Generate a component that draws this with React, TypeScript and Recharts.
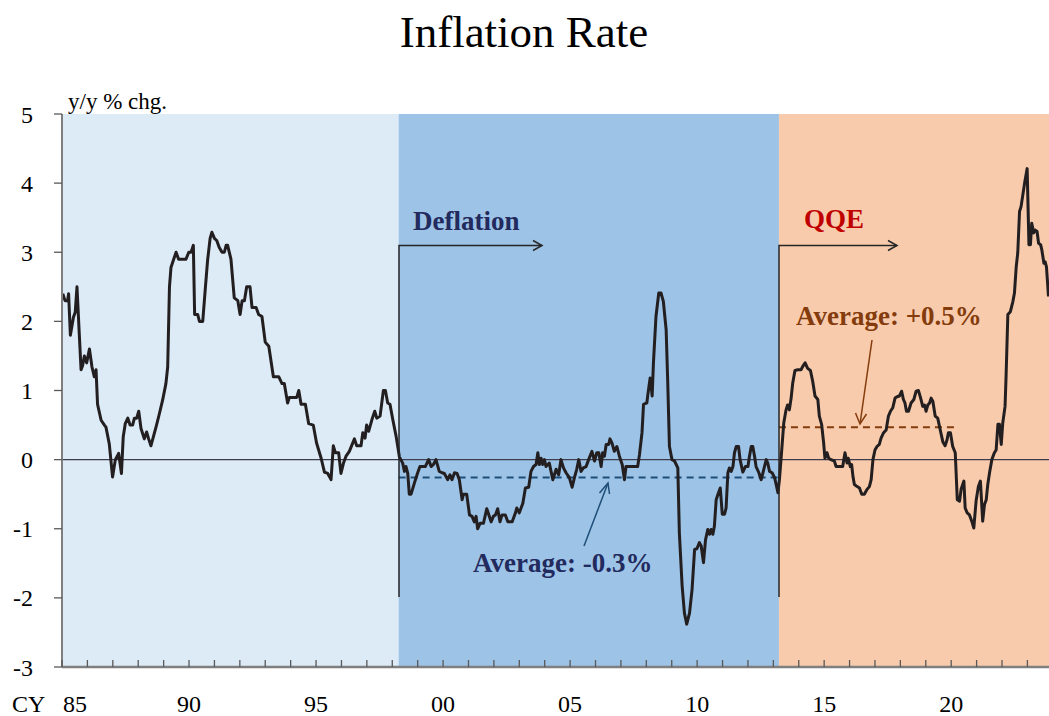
import React from "react";
import {
  LineChart,
  Line,
  XAxis,
  YAxis,
  ReferenceArea,
  ReferenceLine,
} from "recharts";

const FONT = "'Liberation Serif', 'Times New Roman', serif";

// decimal years of the traced monthly observations
const dates: number[] = [
  1985.03, 1985.12, 1985.22, 1985.26, 1985.33, 1985.45, 1985.52, 1985.59, 1985.68, 1985.75,
  1985.81, 1985.88, 1985.97, 1986.08, 1986.18, 1986.27, 1986.34, 1986.40, 1986.54, 1986.67,
  1986.73, 1986.86, 1986.99, 1987.10, 1987.23, 1987.34, 1987.41, 1987.49, 1987.59, 1987.68,
  1987.78, 1987.85, 1987.94, 1988.02, 1988.11, 1988.24, 1988.33, 1988.41, 1988.50, 1988.70,
  1988.83, 1988.96, 1989.09, 1989.16, 1989.23, 1989.29, 1989.38, 1989.49, 1989.59, 1989.72,
  1989.88, 1989.99, 1990.08, 1990.17, 1990.22, 1990.34, 1990.41, 1990.54, 1990.64, 1990.73,
  1990.83, 1990.90, 1991.00, 1991.09, 1991.19, 1991.30, 1991.39, 1991.46, 1991.52, 1991.65,
  1991.78, 1991.92, 1992.01, 1992.09, 1992.18, 1992.27, 1992.40, 1992.48, 1992.64, 1992.74,
  1992.87, 1993.00, 1993.14, 1993.32, 1993.53, 1993.66, 1993.75, 1993.88, 1993.95, 1994.24,
  1994.32, 1994.41, 1994.58, 1994.71, 1994.89, 1995.02, 1995.20, 1995.33, 1995.46, 1995.59,
  1995.68, 1995.76, 1995.89, 1995.98, 1996.08, 1996.18, 1996.31, 1996.51, 1996.60, 1996.77,
  1996.84, 1996.93, 1996.99, 1997.07, 1997.20, 1997.31, 1997.39, 1997.52, 1997.65, 1997.73,
  1997.82, 1997.91, 1998.02, 1998.15, 1998.28, 1998.41, 1998.48, 1998.54, 1998.61, 1998.67,
  1998.74, 1998.87, 1999.00, 1999.09, 1999.30, 1999.43, 1999.53, 1999.62, 1999.72, 1999.85,
  1999.96, 2000.05, 2000.18, 2000.27, 2000.35, 2000.45, 2000.55, 2000.64, 2000.75, 2000.80,
  2000.93, 2001.04, 2001.14, 2001.23, 2001.30, 2001.36, 2001.46, 2001.59, 2001.72, 2001.82,
  2001.89, 2001.98, 2002.06, 2002.15, 2002.24, 2002.32, 2002.45, 2002.55, 2002.72, 2002.85,
  2002.90, 2003.00, 2003.14, 2003.24, 2003.37, 2003.46, 2003.56, 2003.66, 2003.73, 2003.79,
  2003.86, 2003.92, 2003.99, 2004.05, 2004.18, 2004.32, 2004.45, 2004.55, 2004.64, 2004.74,
  2004.84, 2004.97, 2005.08, 2005.17, 2005.26, 2005.34, 2005.43, 2005.52, 2005.63, 2005.73,
  2005.86, 2005.96, 2006.05, 2006.13, 2006.22, 2006.28, 2006.35, 2006.42, 2006.52, 2006.57,
  2006.65, 2006.74, 2006.84, 2006.94, 2007.05, 2007.14, 2007.20, 2007.66, 2007.73, 2007.83,
  2007.89, 2008.02, 2008.06, 2008.15, 2008.19, 2008.23, 2008.28, 2008.38, 2008.49, 2008.58,
  2008.67, 2008.78, 2008.84, 2008.91, 2009.01, 2009.11, 2009.24, 2009.30, 2009.41, 2009.50,
  2009.59, 2009.70, 2009.80, 2009.90, 2009.99, 2010.09, 2010.16, 2010.25, 2010.33, 2010.42,
  2010.49, 2010.55, 2010.62, 2010.68, 2010.75, 2010.82, 2010.91, 2010.99, 2011.08, 2011.14,
  2011.21, 2011.27, 2011.34, 2011.41, 2011.47, 2011.54, 2011.63, 2011.69, 2011.80, 2011.90,
  2012.00, 2012.06, 2012.13, 2012.19, 2012.26, 2012.32, 2012.43, 2012.52, 2012.59, 2012.65,
  2012.72, 2012.78, 2012.85, 2012.95, 2013.05, 2013.11, 2013.18, 2013.24, 2013.33, 2013.41,
  2013.50, 2013.56, 2013.63, 2013.70, 2013.76, 2013.85, 2013.96, 2014.09, 2014.16, 2014.25,
  2014.35, 2014.46, 2014.55, 2014.64, 2014.75, 2014.81, 2014.90, 2014.98, 2015.03, 2015.11,
  2015.18, 2015.27, 2015.40, 2015.47, 2015.60, 2015.73, 2015.82, 2015.90, 2015.95, 2016.03,
  2016.08, 2016.14, 2016.19, 2016.30, 2016.39, 2016.48, 2016.58, 2016.69, 2016.78, 2016.85,
  2016.92, 2017.00, 2017.08, 2017.17, 2017.24, 2017.34, 2017.44, 2017.53, 2017.61, 2017.70,
  2017.79, 2017.87, 2017.96, 2018.05, 2018.12, 2018.18, 2018.24, 2018.32, 2018.42, 2018.53,
  2018.62, 2018.71, 2018.79, 2018.88, 2018.95, 2019.01, 2019.08, 2019.15, 2019.21, 2019.28,
  2019.37, 2019.47, 2019.58, 2019.67, 2019.76, 2019.84, 2019.89, 2019.97, 2020.06, 2020.16,
  2020.24, 2020.33, 2020.39, 2020.50, 2020.55, 2020.63, 2020.72, 2020.81, 2020.89, 2020.98,
  2021.07, 2021.15, 2021.24, 2021.31, 2021.38, 2021.44, 2021.51, 2021.60, 2021.70, 2021.77,
  2021.84, 2021.90, 2021.97, 2022.03, 2022.12, 2022.16, 2022.23, 2022.33, 2022.43, 2022.49,
  2022.56, 2022.62, 2022.69, 2022.75, 2022.82, 2022.89, 2022.99, 2023.06, 2023.12, 2023.17,
  2023.25, 2023.31, 2023.38, 2023.44, 2023.52, 2023.57, 2023.65, 2023.70, 2023.75, 2023.83,
];

// y/y % change of the price index at those dates
const inflation: number[] = [
  2.4, 2.3, 2.3, 2.4, 1.8, 2.06, 2.13, 2.5, 1.82, 1.3,
  1.36, 1.5, 1.4, 1.6, 1.34, 1.2, 1.3, 0.8, 0.57, 0.5,
  0.47, 0.23, -0.25, 0, 0.09, -0.2, 0.33, 0.52, 0.6, 0.5,
  0.5, 0.6, 0.6, 0.7, 0.45, 0.3, 0.4, 0.3, 0.2, 0.47,
  0.66, 0.86, 1.1, 1.34, 2.5, 2.78, 2.88, 3.0, 2.9, 2.9,
  2.9, 3.0, 3.0, 3.1, 2.1, 2.1, 2.0, 2.0, 2.47, 2.88,
  3.2, 3.29, 3.2, 3.17, 3.07, 3.0, 3.0, 3.1, 3.1, 2.9,
  2.34, 2.3, 2.1, 2.3, 2.3, 2.5, 2.5, 2.2, 2.2, 2.1,
  2.07, 1.7, 1.64, 1.2, 1.2, 1.1, 1.1, 0.82, 0.9, 0.9,
  1.0, 0.8, 0.8, 0.52, 0.5, 0.24, 0.02, -0.18, -0.2, -0.29,
  0.2, 0.1, 0.1, -0.2, -0.05, 0.05, 0.12, 0.3, 0.2, 0.2,
  0.39, 0.31, 0.5, 0.41, 0.58, 0.7, 0.6, 0.63, 1.0, 1.0,
  0.82, 0.8, 0.58, 0.34, 0.04, -0.05, -0.17, -0.1, -0.2, -0.5,
  -0.5, -0.34, -0.19, -0.1, -0.1, 0, -0.1, -0.07, 0, -0.17,
  -0.19, -0.2, -0.29, -0.22, -0.29, -0.19, -0.2, -0.29, -0.58, -0.5,
  -0.5, -0.8, -0.82, -0.9, -0.82, -1.0, -0.92, -0.92, -0.71, -0.82,
  -0.9, -0.82, -0.8, -0.71, -0.9, -0.8, -0.8, -0.9, -0.9, -0.77,
  -0.7, -0.77, -0.63, -0.41, -0.4, -0.17, -0.1, -0.07, 0.1, -0.07,
  0.02, -0.07, 0, -0.1, -0.05, -0.29, -0.14, -0.22, 0, -0.12,
  -0.19, -0.26, -0.4, -0.26, -0.14, 0, -0.17, -0.12, -0.1, 0,
  0.12, -0.02, 0.1, 0.1, -0.1, 0.1, 0.05, 0.22, 0.22, 0.3,
  0.24, 0.12, 0.19, 0.05, -0.07, -0.29, -0.1, -0.1, 0.07, 0.39,
  0.8, 0.82, 0.94, 1.18, 1.06, 0.92, 1.4, 2.07, 2.41, 2.41,
  2.29, 1.88, 1.16, 0.19, 0, -0.02, -0.12, -1.06, -1.83, -2.22,
  -2.38, -2.22, -1.88, -1.3, -1.29, -1.2, -1.25, -1.49, -1.16, -1.01,
  -1.08, -1.01, -1.08, -0.96, -0.58, -0.5, -0.41, -0.79, -0.79, -0.7,
  -0.19, -0.12, -0.17, -0.1, 0.1, 0.19, 0.19, 0, -0.18, -0.1,
  -0.1, 0.05, 0.19, 0.19, 0.05, -0.1, -0.19, -0.29, -0.19, -0.1,
  0, -0.05, -0.17, -0.19, -0.26, -0.36, -0.48, -0.29, 0.14, 0.53,
  0.72, 0.79, 0.72, 0.89, 1.1, 1.29, 1.3, 1.3, 1.35, 1.4,
  1.32, 1.29, 1.13, 0.92, 0.87, 0.63, 0.51, 0.24, 0.02, 0.1,
  0.02, 0, -0.02, -0.1, -0.1, -0.1, 0.1, -0.05, 0.02, -0.1,
  -0.07, -0.26, -0.36, -0.39, -0.41, -0.5, -0.5, -0.43, -0.39, -0.29,
  0, 0.14, 0.19, 0.22, 0.31, 0.39, 0.43, 0.63, 0.7, 0.75,
  0.89, 0.91, 0.92, 0.99, 0.87, 0.82, 0.7, 0.7, 0.82, 0.87,
  0.99, 1.0, 0.9, 0.77, 0.79, 0.7, 0.79, 0.82, 0.89, 0.84,
  0.63, 0.6, 0.41, 0.26, 0.2, 0.29, 0.39, 0.39, 0.19, 0.1,
  -0.58, -0.6, -0.43, -0.31, -0.7, -0.77, -0.8, -0.89, -0.99, -0.6,
  -0.39, -0.31, -0.89, -0.65, -0.58, -0.36, -0.19, 0, 0.1, 0.14,
  0.51, 0.51, 0.22, 0.53, 0.77, 1.2, 2.1, 2.14, 2.29, 2.41,
  2.79, 2.99, 3.59, 3.66, 3.83, 4.0, 4.21, 3.11, 3.11, 3.42,
  3.28, 3.32, 3.3, 3.13, 3.11, 3.03, 2.84, 2.86, 2.79, 2.36,
];

// x-axis tick labels
const labelYears: number[] = [1985, 1990, 1995, 2000, 2005, 2010, 2015, 2020];
const xLabels: string[] = ["85", "90", "95", "00", "05", "10", "15", "20"];
const yTicks: number[] = [-3, -2, -1, 0, 1, 2, 3, 4, 5];

// periods and averages
const xStart = 1985;
const xEnd = 2023.85;
const deflationStart = 1998.25;
const qqeStart = 2013.22;
const deflationAvgLine = -0.26;
const qqeAvgLine = 0.47;
const qqeAvgEnd = 2020.2;

const data = dates.map((t, i) => ({ t, v: inflation[i] }));
const yearTicks: number[] = [];
for (let y = 1985; y <= 2023; y++) yearTicks.push(y);

const XTick = (props: any) => {
  const { x, y, payload } = props;
  const idx = labelYears.indexOf(payload.value);
  return (
    <g>
      <line x1={x} x2={x} y1={y} y2={y - 7} stroke="#595959" strokeWidth={1.3} />
      {idx >= 0 && (
        <text
          x={idx === 0 ? x + 1 : x}
          y={y + 45}
          textAnchor={idx === 0 ? "start" : "middle"}
          fontSize={24}
          fontFamily={FONT}
          fill="#000"
        >
          {xLabels[idx]}
        </text>
      )}
    </g>
  );
};

export default function App() {
  return (
    <div style={{ position: "absolute", left: 0, top: 0, width: 1049, height: 716, background: "#fff" }}>
      <LineChart
        width={1049}
        height={716}
        data={data}
        margin={{ top: 114, right: 0, left: 0, bottom: 0 }}
      >
        <ReferenceArea x1={xStart} x2={deflationStart} y1={-3} y2={5} fill="#ddebf7" fillOpacity={1} stroke="none" />
        <ReferenceArea x1={deflationStart} x2={qqeStart} y1={-3} y2={5} fill="#9dc3e6" fillOpacity={1} stroke="none" />
        <ReferenceArea x1={qqeStart} x2={xEnd} y1={-3} y2={5} fill="#f8cbad" fillOpacity={1} stroke="none" />
        <XAxis
          type="number"
          dataKey="t"
          domain={[xStart, xEnd]}
          allowDataOverflow
          ticks={yearTicks}
          interval={0}
          tick={<XTick />}
          tickLine={false}
          tickSize={0}
          tickMargin={0}
          height={49}
          axisLine={{ stroke: "#7f7f7f", strokeWidth: 2.5 }}
        />
        <YAxis
          type="number"
          domain={[-3, 5]}
          ticks={yTicks}
          interval={0}
          width={62}
          tickSize={8}
          tickMargin={21}
          tickLine={{ stroke: "#595959", strokeWidth: 1.3 }}
          axisLine={{ stroke: "#7f7f7f", strokeWidth: 2 }}
          tick={{ fontSize: 24, fontFamily: FONT, fill: "#000" }}
        />
        <ReferenceLine y={0} stroke="#3c3c4c" strokeWidth={1.2} />
        <ReferenceLine
          segment={[
            { x: deflationStart, y: deflationAvgLine },
            { x: qqeStart, y: deflationAvgLine },
          ]}
          stroke="#1f4e79"
          strokeWidth={2}
          strokeDasharray="7 5"
        />
        <ReferenceLine
          segment={[
            { x: qqeStart, y: qqeAvgLine },
            { x: qqeAvgEnd, y: qqeAvgLine },
          ]}
          stroke="#843c0c"
          strokeWidth={2}
          strokeDasharray="7 5"
        />
        <Line
          type="linear"
          dataKey="v"
          stroke="#231f20"
          strokeWidth={3}
          strokeLinejoin="round"
          dot={false}
          isAnimationActive={false}
        />
      </LineChart>
      <svg
        width={1049}
        height={716}
        style={{ position: "absolute", left: 0, top: 0, pointerEvents: "none" }}
      >
        <text x={524} y={47} textAnchor="middle" fontSize={45} fontFamily={FONT} fill="#000">
          Inflation Rate
        </text>
        <text x={68} y={109} fontSize={23} fontFamily={FONT} fill="#000">
          y/y % chg.
        </text>
        <text x={12} y={712} fontSize={24} fontFamily={FONT} fill="#000">
          CY
        </text>
        {/* Deflation bracket */}
        <path d="M399,597 V245.5 H542" fill="none" stroke="#262626" strokeWidth={1.5} />
        <polyline points="533,240.5 542,245.5 533,250.5" fill="none" stroke="#262626" strokeWidth={1.5} />
        <text x={413} y={230} fontSize={27} fontWeight="bold" fontFamily={FONT} fill="#222a5e">
          Deflation
        </text>
        {/* QQE bracket */}
        <path d="M779,597 V245.5 H897" fill="none" stroke="#262626" strokeWidth={1.5} />
        <polyline points="888,240.5 897,245.5 888,250.5" fill="none" stroke="#262626" strokeWidth={1.5} />
        <text x={804} y={228} fontSize={27} fontWeight="bold" fontFamily={FONT} fill="#c00000">
          QQE
        </text>
        {/* QQE average */}
        <text x={796} y={325} fontSize={27} fontWeight="bold" fontFamily={FONT} fill="#843c0c">
          Average: +0.5%
        </text>
        <line x1={872} y1={340} x2={860} y2={424} stroke="#843c0c" strokeWidth={1.5} />
        <polyline points="855.5,413 860,424 866.5,414" fill="none" stroke="#843c0c" strokeWidth={1.5} />
        {/* Deflation average */}
        <text x={473} y={572} fontSize={27} fontWeight="bold" fontFamily={FONT} fill="#222a5e">
          Average: -0.3%
        </text>
        <line x1={584} y1={546} x2={608} y2={483} stroke="#1f4e79" strokeWidth={1.5} />
        <polyline points="599.5,493 608,483 609.5,494" fill="none" stroke="#1f4e79" strokeWidth={1.5} />
      </svg>
    </div>
  );
}
